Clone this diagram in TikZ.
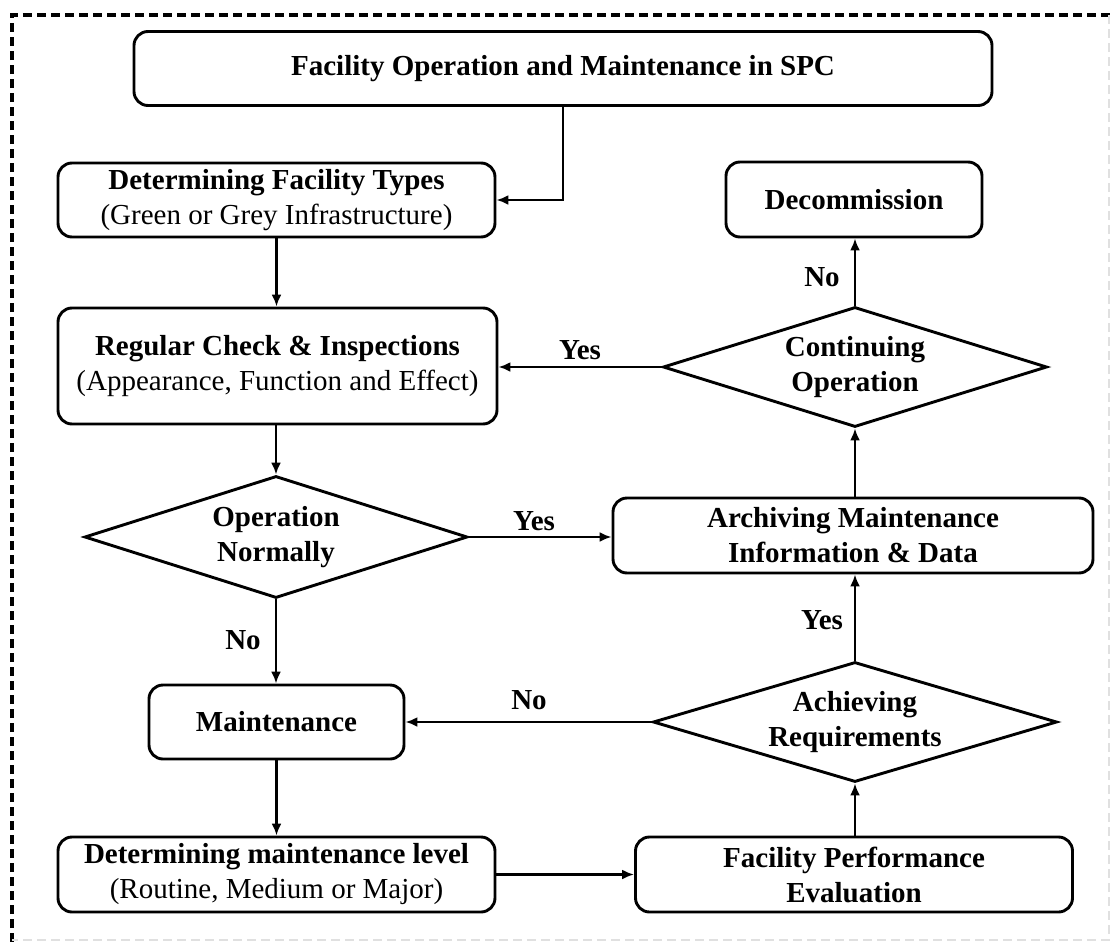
\documentclass[tikz,border=0pt]{standalone}
\usepackage{fontspec}
\setmainfont{Liberation Serif}
\usetikzlibrary{shapes.geometric,arrows.meta}
\begin{document}
\begin{tikzpicture}[x=1pt,y=-1pt,
  box/.style={draw, line width=2.9pt, rounded corners=14pt, align=center, inner sep=0pt, font=\fontsize{29}{35}\selectfont},
  dia/.style={draw, diamond, aspect=3.2, line width=2.9pt, inner sep=0pt, align=center, font=\fontsize{29}{35}\selectfont\bfseries},
  arr/.style={line width=2.6pt, -{Latex[length=12pt,width=10pt]}},
  lab/.style={font=\fontsize{29}{35}\selectfont\bfseries, inner sep=0pt}]
\useasboundingbox (0,0) rectangle (1111,942);
% frame
\draw[line width=3.2pt, dash pattern=on 9pt off 5pt] (12,942) -- (12,15) -- (1111,15);
\draw[black!12, line width=1.5pt, dash pattern=on 9pt off 5pt] (1109,15) -- (1109,940) -- (12,940);
% nodes
\node[box, minimum width=858pt, minimum height=74pt, font=\fontsize{29}{35}\selectfont\bfseries] (top) at (563,68.5) {Facility Operation and Maintenance in SPC};
\node[box, minimum width=437pt, minimum height=74pt] (dtype) at (276.5,200) {\textbf{Determining Facility Types}\\(Green or Grey Infrastructure)};
\node[box, minimum width=256pt, minimum height=75pt, font=\fontsize{29}{35}\selectfont\bfseries] (decom) at (854,199.5) {Decommission};
\node[box, minimum width=439pt, minimum height=116pt] (reg) at (277.5,366) {\textbf{Regular Check \& Inspections}\\(Appearance, Function and Effect)};
\node[dia, minimum width=384pt, minimum height=120pt] (cont) at (855,367) {Continuing\\Operation};
\node[dia, minimum width=383pt, minimum height=122pt] (opn) at (276,537) {Operation\\Normally};
\node[box, minimum width=480pt, minimum height=75pt, font=\fontsize{29}{35}\selectfont\bfseries] (arch) at (853,535.5) {Archiving Maintenance\\Information \& Data};
\node[box, minimum width=255pt, minimum height=74pt, font=\fontsize{29}{35}\selectfont\bfseries] (maint) at (276.5,722) {Maintenance};
\node[dia, minimum width=404pt, minimum height=120pt] (ach) at (855,722) {Achieving\\Requirements};
\node[box, minimum width=437pt, minimum height=75pt] (dml) at (276.5,874.5) {\textbf{Determining maintenance level}\\(Routine, Medium or Major)};
\node[box, minimum width=437pt, minimum height=75pt, font=\fontsize{29}{35}\selectfont\bfseries] (fpe) at (854,874.5) {Facility Performance\\Evaluation};
% connectors
\draw[arr] (top.south) |- (dtype.east);
\draw[arr] (dtype.south) -- (dtype.south |- reg.north);
\draw[arr] (reg.south -| opn.north) -- (opn.north);
\draw[arr] (opn.east) -- (opn.east -| arch.west);
\draw[arr] (opn.south) -- (opn.south |- maint.north);
\draw[arr] (maint.south) -- (maint.south |- dml.north);
\draw[arr] (dml.east) -- (dml.east -| fpe.west);
\draw[arr] (fpe.north -| ach.south) -- (ach.south);
\draw[arr] (ach.north) -- (ach.north |- arch.south);
\draw[arr] (arch.north -| cont.south) -- (cont.south);
\draw[arr] (cont.north) -- (cont.north |- decom.south);
\draw[arr] (cont.west) -- (cont.west -| reg.east);
\draw[arr] (ach.west) -- (ach.west -| maint.east);
% labels
\node[lab] (l1) at (580,350) {Yes};
\node[lab] (l2) at (822,277) {No};
\node[lab] (l3) at (534,521) {Yes};
\node[lab] (l4) at (243,640) {No};
\node[lab] (l5) at (529,700) {No};
\node[lab] (l6) at (822,620) {Yes};
\end{tikzpicture}
\end{document}
